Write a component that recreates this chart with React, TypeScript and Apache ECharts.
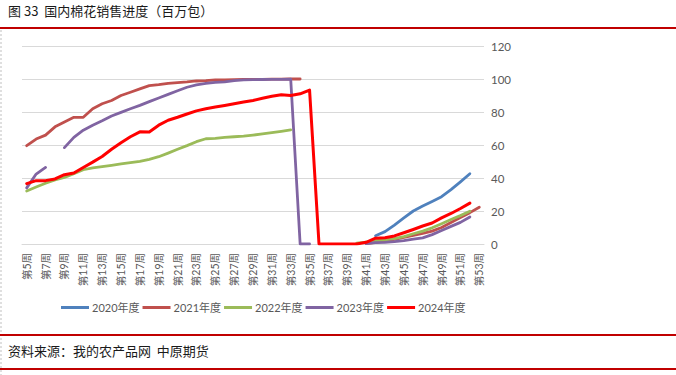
import React, { useEffect, useRef } from "react";
import * as echarts from "echarts";

const weeks = [
  "第5周","第6周","第7周","第8周","第9周","第10周","第11周","第12周","第13周","第14周",
  "第15周","第16周","第17周","第18周","第19周","第20周","第21周","第22周","第23周","第24周",
  "第25周","第26周","第27周","第28周","第29周","第30周","第31周","第32周","第33周","第34周",
  "第35周","第36周","第37周","第38周","第39周","第40周","第41周","第42周","第43周","第44周",
  "第45周","第46周","第47周","第48周","第49周","第50周","第51周","第52周","第53周",
];

const seriesNames = ["2020年度", "2021年度", "2022年度", "2023年度", "2024年度"];
const seriesColors = ["#4F81BD", "#C0504D", "#9BBB59", "#8064A2", "#FF0000"];

const N = null;

const s2020 = [
  N,N,N,N,N,N,N,N,N,N, N,N,N,N,N,N,N,N,N,N, N,N,N,N,N,N,N,N,N,N, N,N,N,N,N,N,N,
  5, 7.5, 11.5, 15.8, 20, 23, 25.8, 28.7, 33, 37.7, 42.6,
  N,
];

const s2021 = [
  59.6, 63.6, 66, 71, 74, 76.8, 76.8, 82, 85, 87, 90, 92, 94, 96, 96.6, 97.4, 97.8, 98.2, 98.8, 99,
  99.4, 99.5, 99.6, 99.7, 99.8, 99.8, 99.9, 99.9, 100, 100,
  N,N,N,N,N,N,
  0.3, 1, 1.8, 2.8, 4, 5.2, 6.5, 7.8, 10, 13, 16, 19, 22.3,
];

const s2022 = [
  32.1, 34.5, 36.8, 38.8, 40.4, 42.6, 45, 46.2, 46.9, 47.7, 48.5, 49.3, 50.1, 51.3, 52.9, 55.1, 57.4, 59.6, 62, 63.8,
  64, 64.6, 65, 65.4, 66, 66.7, 67.5, 68.3, 69.1,
  N,N,N,N,N,N,
  0.5, 1.2, 2, 2.5, 3.3, 4.5, 6.2, 7.8, 9.8, 12.3, 14.8, 17.2, 19.9,
  N,
];

const s2023 = [
  34, 42.4, 46.4, N,
  58.4, 64.6, 69, 72, 74.7, 77.6, 79.8, 82, 84, 86.3, 88.5, 90.7, 92.9, 95, 96.4, 97.4,
  98, 98.2, 99, 99.5, 99.6, 99.7, 99.8, 99.8, 99.9,
  0, 0,
  N,N,N,N,N,
  0.3, 0.8, 1, 1.4, 2, 2.9, 3.7, 5.7, 8.2, 10.7, 13.1, 16.4,
  N,
];

const s2024 = [
  36.6, 38.4, 38.4, 39.4, 42, 43, 46.4, 49.6, 53, 57.4, 61.4, 65, 68, 67.9, 72, 75, 76.8, 78.8, 80.7, 82,
  83, 84, 85, 86, 87, 88.3, 89.5, 90.5, 90, 91, 93.3,
  0, 0, 0, 0, 0,
  1, 3.5, 3.8, 4.9, 6.8, 8.8, 10.9, 12.7, 15.8, 18.5, 21.5, 24.8,
  N,
];

const allSeries = [s2020, s2021, s2022, s2023, s2024];

const yTicks = [0, 20, 40, 60, 80, 100, 120];

const titleText = "图 33  国内棉花销售进度（百万包）";
const sourceText = "资料来源：我的农产品网  中原期货";

const CJK = "'Noto Sans CJK SC', sans-serif";
const LATIN = "Lato, 'Noto Sans CJK SC', sans-serif";

export default function App() {
  const ref = useRef<HTMLDivElement>(null);

  useEffect(() => {
    if (!ref.current) return;
    const chart = echarts.init(ref.current, undefined, { renderer: "svg" });
    chart.setOption({
      animation: false,
      backgroundColor: "#ffffff",
      grid: { left: 22, right: 192, top: 46, bottom: 131, containLabel: false },
      legend: {
        left: 56,
        top: 297,
        itemWidth: 28,
        itemHeight: 3,
        itemGap: 3,
        icon: "rect",
        textStyle: { color: "#595959", fontSize: 11, fontFamily: LATIN, padding: [0, 0, 0, -2] },
        data: seriesNames,
      },
      xAxis: {
        type: "category",
        data: weeks,
        boundaryGap: true,
        axisLine: { show: true, lineStyle: { color: "#D9D9D9", width: 1 } },
        axisTick: { show: false },
        axisLabel: {
          interval: 1,
          rotate: 90,
          margin: 9,
          color: "#595959",
          fontSize: 10.5,
          fontFamily: LATIN,
        },
      },
      yAxis: {
        type: "value",
        position: "right",
        min: yTicks[0],
        max: yTicks[yTicks.length - 1],
        interval: 20,
        axisLine: { show: false },
        axisTick: { show: false },
        splitLine: { show: true, lineStyle: { color: "#D9D9D9", width: 1 } },
        axisLabel: { margin: 7, color: "#595959", fontSize: 11.5, fontFamily: LATIN },
      },
      series: allSeries.map((d, i) => ({
        name: seriesNames[i],
        type: "line",
        data: d,
        symbol: "none",
        showSymbol: false,
        connectNulls: false,
        lineStyle: { color: seriesColors[i], width: i === 4 ? 3 : 2.8, cap: "round", join: "round" },
        itemStyle: { color: seriesColors[i] },
        z: 2 + i,
      })),
      graphic: [
        {
          type: "text",
          left: 8,
          top: 4,
          style: { text: titleText, fontSize: 13, fill: "#1a1a1a", fontFamily: CJK },
        },
        {
          type: "rect",
          shape: { x: 0, y: 27, width: 676, height: 2 },
          style: { fill: "#C00000" },
        },
        {
          type: "line",
          shape: { x1: 1, y1: 30, x2: 1, y2: 375 },
          style: { stroke: "#BFBFBF", lineWidth: 1, lineDash: [2, 2] },
        },
        {
          type: "rect",
          shape: { x: 0, y: 334, width: 676, height: 2 },
          style: { fill: "#C00000" },
        },
        {
          type: "text",
          left: 8,
          top: 344,
          style: { text: sourceText, fontSize: 13, fill: "#1a1a1a", fontFamily: CJK },
        },
        {
          type: "rect",
          shape: { x: 0, y: 368, width: 676, height: 2 },
          style: { fill: "#C00000" },
        },
      ],
    });
    return () => chart.dispose();
  }, []);

  return (
    <div
      ref={ref}
      style={{ position: "fixed", left: 0, top: 0, width: 676, height: 375, background: "#fff" }}
    />
  );
}
